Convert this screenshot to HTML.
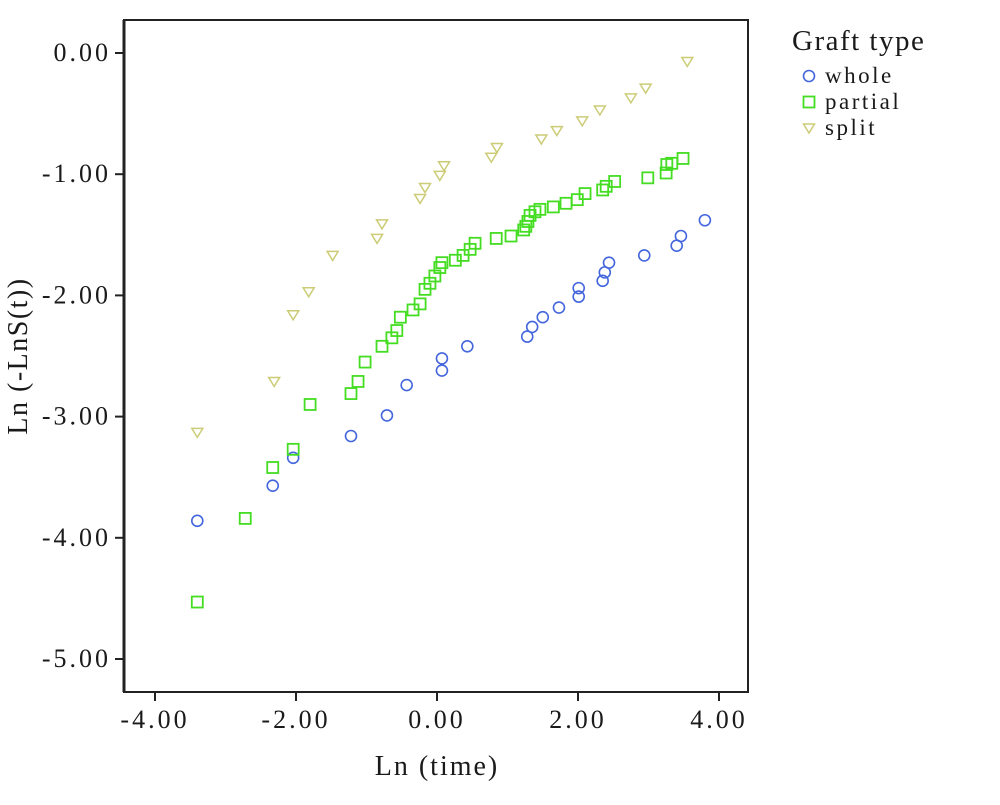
<!DOCTYPE html>
<html><head><meta charset="utf-8"><style>
body{margin:0;background:#fff;}
svg text{font-family:"Liberation Serif",serif;fill:#1a1a1a;}
</style></head><body>
<svg width="1000" height="800" viewBox="0 0 1000 800">
<g id="plot"></g>
</svg>
<script>
const xTicks=[-4,-2,0,2,4];
const yTicks=[0,-1,-2,-3,-4,-5];
const xTickLabels=["-4.00","-2.00","0.00","2.00","4.00"];
const yTickLabels=["0.00","-1.00","-2.00","-3.00","-4.00","-5.00"];
const seriesNames=["whole","partial","split"];
const wholeX=[-3.40,-2.33,-2.04,-1.22,-0.71,-0.43,0.07,0.07,0.43,1.28,1.35,1.50,1.73,2.01,2.01,2.35,2.38,2.44,2.94,3.40,3.46,3.80];
const wholeY=[-3.86,-3.57,-3.34,-3.16,-2.99,-2.74,-2.62,-2.52,-2.42,-2.34,-2.26,-2.18,-2.10,-2.01,-1.94,-1.88,-1.81,-1.73,-1.67,-1.59,-1.51,-1.38];
const partialX=[-3.40,-2.72,-2.33,-2.04,-1.80,-1.22,-1.12,-1.02,-0.78,-0.64,-0.57,-0.52,-0.34,-0.24,-0.17,-0.10,-0.03,0.04,0.07,0.26,0.37,0.47,0.54,0.84,1.05,1.23,1.26,1.29,1.32,1.39,1.46,1.65,1.83,1.99,2.10,2.35,2.40,2.52,2.99,3.25,3.26,3.33,3.49];
const partialY=[-4.53,-3.84,-3.42,-3.27,-2.90,-2.81,-2.71,-2.55,-2.42,-2.35,-2.29,-2.18,-2.12,-2.07,-1.95,-1.90,-1.84,-1.77,-1.73,-1.71,-1.67,-1.62,-1.57,-1.53,-1.51,-1.46,-1.43,-1.39,-1.34,-1.31,-1.29,-1.27,-1.24,-1.21,-1.16,-1.13,-1.10,-1.06,-1.03,-0.99,-0.92,-0.91,-0.87];
const splitX=[-3.40,-2.31,-2.04,-1.82,-1.48,-0.85,-0.78,-0.24,-0.17,0.04,0.10,0.77,0.85,1.48,1.70,2.06,2.31,2.75,2.96,3.55];
const splitY=[-3.13,-2.71,-2.16,-1.97,-1.67,-1.53,-1.41,-1.20,-1.11,-1.01,-0.93,-0.86,-0.78,-0.71,-0.64,-0.56,-0.47,-0.37,-0.29,-0.07];

const NS="http://www.w3.org/2000/svg";
const g=document.getElementById('plot');
const L=124,R=748,T=20,B=692;
const xS=v=>437+v*70.5;
const yS=v=>53-v*121.2;
function mk(tag,attrs,parent){const e=document.createElementNS(NS,tag);for(const k in attrs)e.setAttribute(k,attrs[k]);(parent||g).appendChild(e);return e;}
let frame=mk('rect',{x:L,y:T,width:R-L,height:B-T,fill:'none',stroke:'#222','stroke-width':2});


mk('line',{x1:L,x2:L,y1:T,y2:B,stroke:'#222','stroke-width':3});
xTicks.forEach((v,i)=>{
 let t=mk('line',{x1:xS(v),x2:xS(v),y1:B,y2:B+9,stroke:'#222','stroke-width':2});
 
 
 let tx=mk('text',{x:xS(v),y:B+36,'text-anchor':'middle','font-size':26,'letter-spacing':3});
 tx.textContent=xTickLabels[i];
 
 
});
yTicks.forEach((v,i)=>{
 let t=mk('line',{x1:L-9,x2:L,y1:yS(v),y2:yS(v),stroke:'#222','stroke-width':2});
 
 
 let tx=mk('text',{x:111,y:yS(v)+8,'text-anchor':'end','font-size':26,'letter-spacing':3});
 tx.textContent=yTickLabels[i];
 
 
});
let xt=mk('text',{x:437,y:775,'text-anchor':'middle','font-size':28,'letter-spacing':2});
xt.textContent='Ln (time)';


let yt=mk('text',{x:0,y:0,'text-anchor':'middle','font-size':28,'letter-spacing':1.5,transform:'translate(27,356) rotate(-90)'});
yt.textContent='Ln (-LnS(t))';



const colors=['#4466dd','#44dd22','#cccc77'];
function marker(type,cx,cy,parent){
 let e;
 if(type===0)e=mk('circle',{cx:cx,cy:cy,r:5.5,fill:'none',stroke:colors[0],'stroke-width':1.6},parent);
 else if(type===1)e=mk('rect',{x:cx-5.5,y:cy-5.5,width:11,height:11,fill:'none',stroke:colors[1],'stroke-width':1.8},parent);
 else e=mk('path',{d:`M${cx-5.5},${cy-4} L${cx+5.5},${cy-4} L${cx},${cy+5} Z`,fill:'none',stroke:colors[2],'stroke-width':1.5},parent);
 return e;
}
[[wholeX,wholeY],[partialX,partialY],[splitX,splitY]].forEach((s,si)=>{
 s[0].forEach((x,i)=>{
  const m=marker(si,xS(x),yS(s[1][i]));
  
  
 });
});
let lg=mk('g',{});


let lt=mk('text',{x:792,y:50,'font-size':29,'letter-spacing':1.5},lg);
lt.textContent='Graft type';


seriesNames.forEach((n,i)=>{
 const y=76+i*26;
 const m=marker(i,809,y,lg);
 
 
 const t=mk('text',{x:825,y:y+7,'font-size':23,'letter-spacing':2.5},lg);
 t.textContent=n;
 
 
});
</script>
</body></html>
